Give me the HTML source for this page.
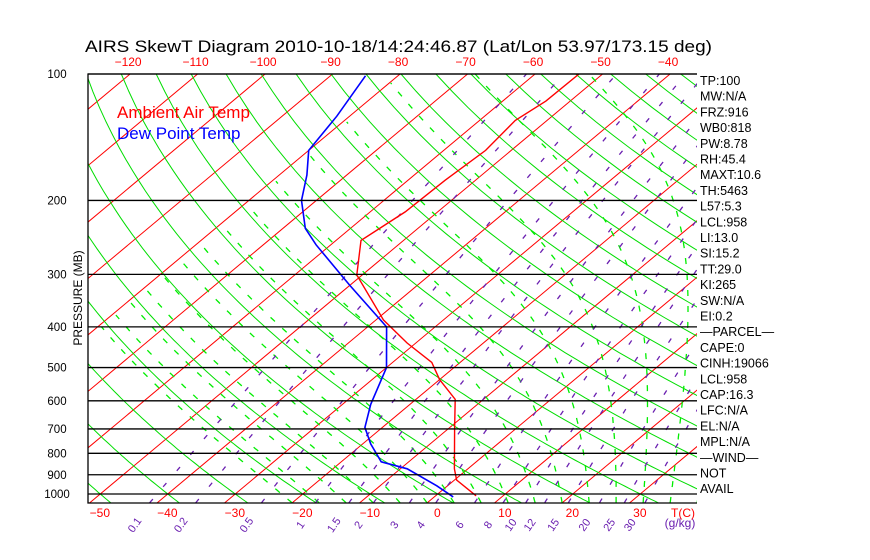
<!DOCTYPE html>
<html><head><meta charset="utf-8"><style>
html,body{margin:0;padding:0;background:#fff;}
svg{display:block;font-family:"Liberation Sans",sans-serif;}
</style></head><body>
<svg id="chart" width="870" height="560" viewBox="0 0 870 560" xmlns="http://www.w3.org/2000/svg">
<defs><clipPath id="plotclip"><rect x="88" y="74" width="609" height="429"/></clipPath></defs>
<rect x="0" y="0" width="870" height="560" fill="#fff"/>
<text x="85" y="52" font-size="16.5" fill="#000" textLength="627" lengthAdjust="spacingAndGlyphs">AIRS SkewT Diagram 2010-10-18/14:24:46.87 (Lat/Lon 53.97/173.15 deg)</text>
<g id="grid" clip-path="url(#plotclip)"></g>
<g id="profiles" clip-path="url(#plotclip)"></g>
<g id="axes"></g>
<text x="117" y="118" font-size="17" fill="#ff0000">Ambient Air Temp</text>
<text x="117" y="139" font-size="17" fill="#0000ff">Dew Point Temp</text>
<text transform="translate(82,298) rotate(-90)" text-anchor="middle" font-size="12">PRESSURE (MB)</text>
<g id="stats"></g>
</svg>
<script>
// ---- data ----
const tempPressures = [1010, 926, 871, 703, 595, 534, 486, 437, 385, 301, 249, 213, 179, 152, 129, 116, 100];
const tempValues = [6.0, 0.3, -2.0, -8.9, -14.2, -20.0, -24.2, -31.3, -38.9, -50.8, -56.3, -54.8, -54.5, -53.8, -54.7, -53.6, -53.5];
const dewPressures = [1016, 956, 871, 838, 760, 694, 612, 500, 400, 318, 255, 233, 200, 174, 152, 126, 101];
const dewValues = [2.8, -1.6, -9.0, -14.1, -18.8, -22.6, -25.8, -30.0, -37.2, -50.1, -62.2, -66.7, -72.2, -75.9, -80.0, -81.9, -84.8];
const pressureTicks = [100, 200, 300, 400, 500, 600, 700, 800, 900, 1000];
const topTempTicks = [-120, -110, -100, -90, -80, -70, -60, -50, -40];
const bottomTempTicks = [-50, -40, -30, -20, -10, 0, 10, 20, 30];
const mixingRatios = [0.1, 0.2, 0.5, 1, 1.5, 2, 3, 4, 6, 8, 10, 12, 15, 20, 25, 30];
const mixingLabels = ["0.1", "0.2", "0.5", "1", "1.5", "2", "3", "4", "6", "8", "10", "12", "15", "20", "25", "30"];
const statLines = ["TP:100","MW:N/A","FRZ:916","WB0:818","PW:8.78","RH:45.4","MAXT:10.6","TH:5463","L57:5.3","LCL:958","LI:13.0","SI:15.2","TT:29.0","KI:265","SW:N/A","EI:0.2","\u2014PARCEL\u2014","CAPE:0","CINH:19066","LCL:958","CAP:16.3","LFC:N/A","EL:N/A","MPL:N/A","\u2014WIND\u2014"," NOT"," AVAIL"];

// ---- scales ----
const NS = "http://www.w3.org/2000/svg";
const X0 = 88, X1 = 697, YT = 74, YB = 503;
function yP(p){ return 74 + 182.4 * Math.log(p / 100); }
function xT(T, p){ return 427 + 6.75 * T + 1.196 * (YB - yP(p)); }
function mk(tag, attrs, parent){ const e = document.createElementNS(NS, tag); for (const k in attrs) e.setAttribute(k, attrs[k]); parent.appendChild(e); return e; }
function pts(arr){ return arr.map(a => a[0].toFixed(1) + "," + a[1].toFixed(1)).join(" "); }
const grid = document.getElementById("grid");
const prof = document.getElementById("profiles");
const axes = document.getElementById("axes");
const stats = document.getElementById("stats");

// isotherms
for (let T = -170; T <= 50; T += 10) {
  const l = mk("line", {x1: xT(T, 1050), y1: yP(1050), x2: xT(T, 100), y2: yP(100), stroke: "#ff0000", "stroke-width": 1}, grid);
  
  
}
// dry adiabats
for (let th = -60; th <= 220; th += 10) {
  const a = [];
  for (let p = 1050; p >= 99; p -= 10) { const T = (th + 273.15) * Math.pow(p / 1000, 0.2857) - 273.15; a.push([xT(T, p), yP(p)]); }
  const l = mk("polyline", {points: pts(a), fill: "none", stroke: "#00dd00", "stroke-width": 1}, grid);
  
  
}
// moist adiabats
function esat(T){ return 6.112 * Math.exp(17.67 * T / (T + 243.5)); }
for (let T0 = -20; T0 <= 44; T0 += 4) {
  let T = T0, a = [];
  for (let p = 1050; p >= 100; p -= 5) {
    a.push([xT(T, p), yP(p)]);
    const Tk = T + 273.15, rs = 0.622 * esat(T) / (p - esat(T));
    const dTdp = (287 * Tk + 2.5e6 * rs) / (1004 + 2.5e6 * 2.5e6 * rs * 0.622 / (287 * Tk * Tk)) / p;
    T -= dTdp * 5;
    if (T < -80) break;
  }
  const l = mk("polyline", {points: pts(a), fill: "none", stroke: "#00ee00", "stroke-width": 1.3, "stroke-dasharray": "6,10"}, grid);
  
  
}
// mixing ratio lines
function tdFromW(w, p){ const e = w * p / (622 + w); const l = Math.log(e / 6.112); return 243.5 * l / (17.67 - l); }
for (let i = 0; i < mixingRatios.length; i++) {
  const w = mixingRatios[i], a = [];
  for (let p = 1050; p >= 100; p -= 10) a.push([xT(tdFromW(w, p), p), yP(p)]);
  const l = mk("polyline", {points: pts(a), fill: "none", stroke: "#6a1fb0", "stroke-width": 1.3, "stroke-dasharray": "5,16"}, grid);
  
  
  const lx = xT(tdFromW(w, 1050), 1050) - 12;
  const t = mk("text", {x: 0, y: 0, transform: "translate(" + lx.toFixed(1) + ",527) rotate(-55)", "font-size": 11, fill: "#6a1fb0", "text-anchor": "middle"}, axes);
  t.textContent = mixingLabels[i];
  
  
}
const gk = mk("text", {x: 680, y: 527, "font-size": 12, fill: "#6a1fb0", "text-anchor": "middle"}, axes);
gk.textContent = "(g/kg)";


// pressure lines
for (const p of pressureTicks) {
  const y = yP(p);
  const l = mk("line", {x1: X0, y1: y, x2: X1, y2: y, stroke: "#000", "stroke-width": 1.3}, axes);
  
  
  const t = mk("text", {x: 57, y: y + 4, "font-size": 11.5, "text-anchor": "middle", fill: "#000"}, axes);
  t.textContent = String(p);
  
  
}
const frame = mk("polyline", {points: "697,74 88,74 88,503 697,503", fill: "none", stroke: "#000", "stroke-width": 1.3}, axes);


// temp tick labels
for (const T of topTempTicks) {
  const t = mk("text", {x: xT(T, 100) - 2, y: 66, "font-size": 12, "text-anchor": "middle", fill: "#ff0000"}, axes);
  t.textContent = T < 0 ? "\u2212" + (-T) : String(T);
  
  
}
for (const T of bottomTempTicks) {
  const t = mk("text", {x: xT(T, 1049) + 10, y: 517, "font-size": 12, "text-anchor": "middle", fill: "#ff0000"}, axes);
  t.textContent = T < 0 ? "\u2212" + (-T) : String(T);
  
  
}
const tc = mk("text", {x: 683, y: 517, "font-size": 12, "text-anchor": "middle", fill: "#ff0000"}, axes);
tc.textContent = "T(C)";


// profiles
const tl = mk("polyline", {points: pts(tempPressures.map((p, i) => [xT(tempValues[i], p), yP(p)])), fill: "none", stroke: "#ff0000", "stroke-width": 1.4}, prof);


const dl = mk("polyline", {points: pts(dewPressures.map((p, i) => [xT(dewValues[i], p), yP(p)])), fill: "none", stroke: "#0000ff", "stroke-width": 1.6}, prof);


// stats
for (let i = 0; i < statLines.length; i++) {
  const t = mk("text", {x: 700, y: 85 + i * 15.7, "font-size": 12.5, fill: "#000"}, stats);
  t.textContent = statLines[i];
  
  
}
</script>
</body></html>
